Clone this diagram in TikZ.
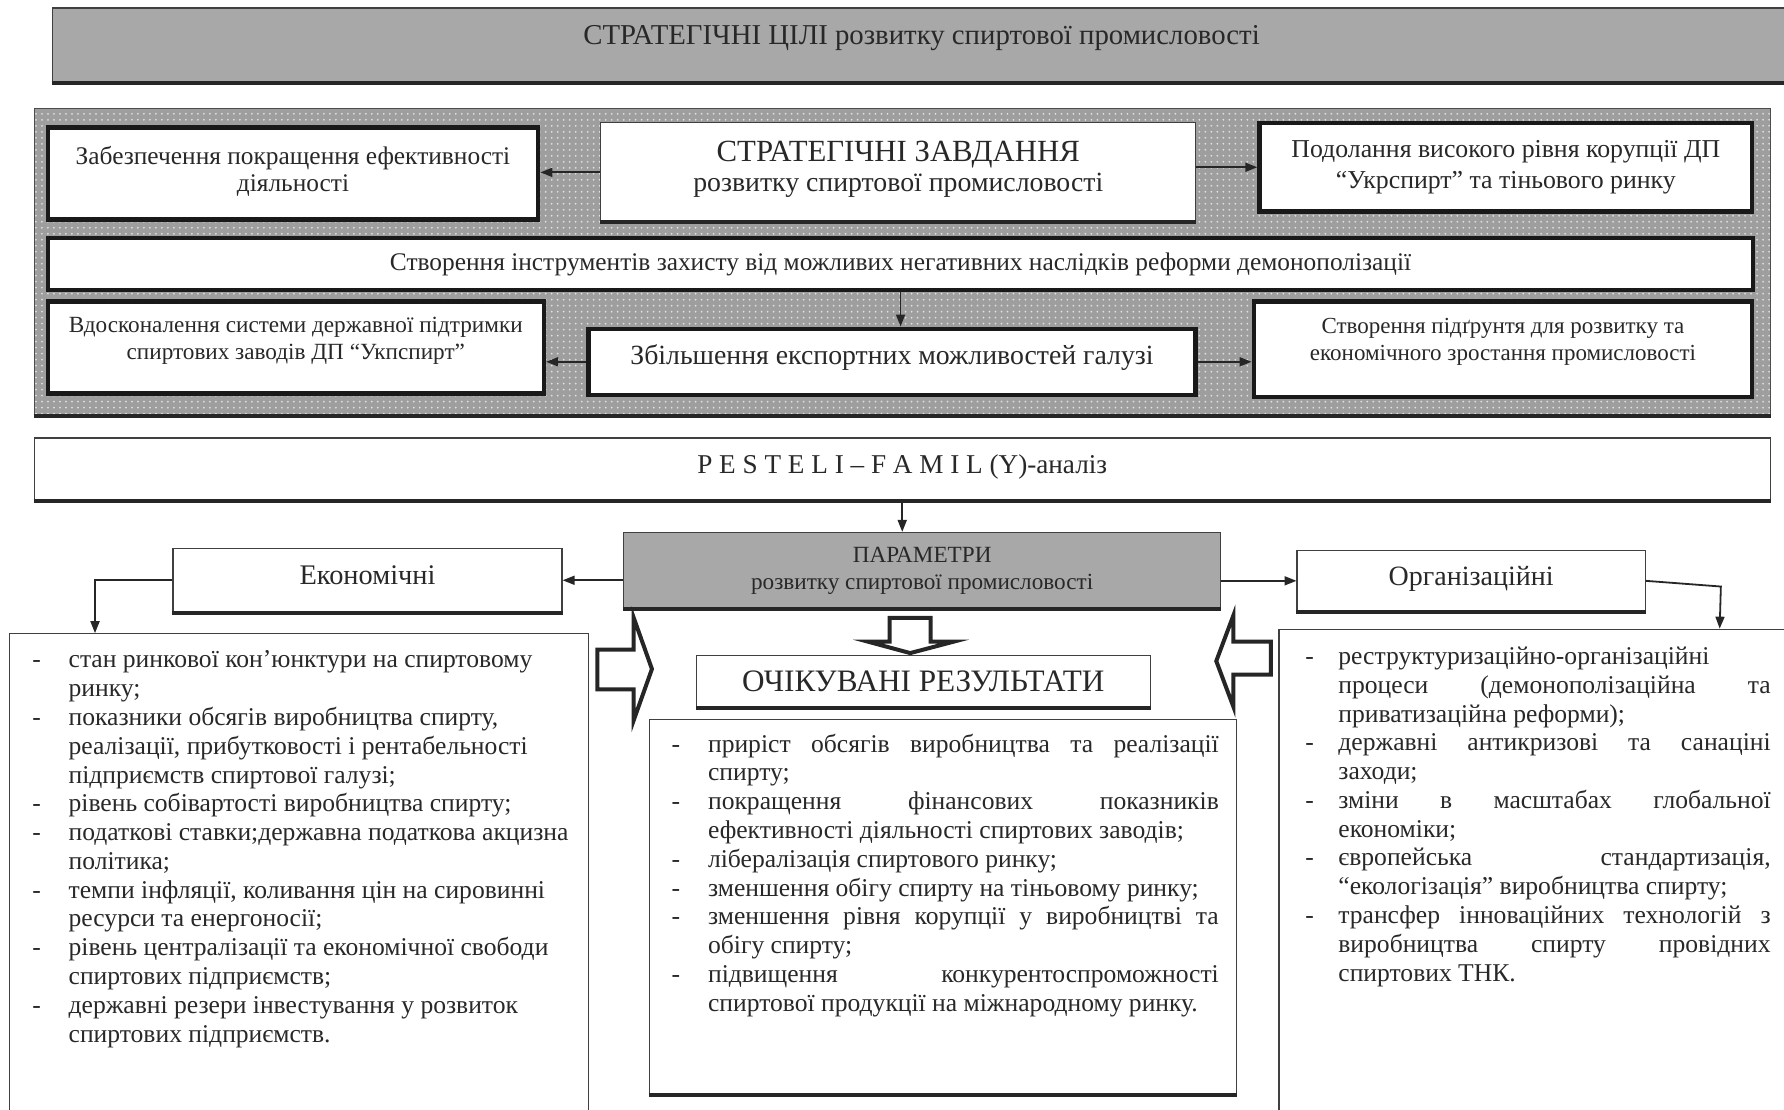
\documentclass[tikz,border=0pt]{standalone}
\usepackage{fontspec}
\setmainfont{Liberation Serif}
\usetikzlibrary{arrows.meta, positioning, calc, patterns}
\definecolor{boxGray}{RGB}{168, 168, 168}
\definecolor{panelGray}{RGB}{158, 158, 158}
\definecolor{inkGray}{RGB}{40, 40, 40}
\newcommand{\jl}[1]{\makebox[\linewidth][s]{#1}}
\newcommand{\padbelow}[1]{\rule[-#1]{0pt}{0pt}}

\begin{document}
\begin{tikzpicture}[
    x=0.02cm, y=-0.02cm,
    every node/.style={font=\fontsize{12.8}{14.4}\selectfont, text=inkGray},
    heavybox/.style={draw=black!90, line width=2.3pt, fill=white, align=center, inner sep=2pt},
    lightbox/.style={draw=black!75, line width=0.6pt, fill=white, align=center, inner sep=2pt,
        append after command={(\tikzlastnode.south west) edge[draw=black!85, line width=2pt] (\tikzlastnode.south east)}},
    listbox/.style={draw=black!75, line width=0.6pt, fill=white},
    listtext/.style={anchor=base west, inner sep=0pt, align=left},
    arr/.style={-{Triangle[length=6pt, width=4.5pt]}, draw=black!85, line width=0.9pt},
    hollow/.style={draw=black!85, line width=2pt, fill=white, line join=miter},
]
\useasboundingbox (0,0) rectangle (1568,975);
\clip (0,0) rectangle (1568,975);
% goals
\node[lightbox, fill=boxGray, minimum width=30.56cm, minimum height=1.3cm, text height=0.3cm, text depth=0.33cm, font=\fontsize{14.4}{16}\selectfont] (goals) at (810,39.5) {СТРАТЕГІЧНІ ЦІЛІ розвитку спиртової промисловості};
% tasks panel
\node[lightbox, draw=black!70, preaction={fill=panelGray}, pattern=dots, pattern color=black!12, minimum width=30.52cm, minimum height=5.4cm] (panel) at (793,230) {};
\node[heavybox, minimum width=8.62cm, minimum height=1.62cm, font=\fontsize{12.7}{13.6}\selectfont] (effic) at (257.5,152.5) {Забезпечення покращення ефективності\\діяльності\padbelow{5pt}};
\node[lightbox, minimum width=10.46cm, minimum height=1.74cm, font=\fontsize{13.9}{15}\selectfont] (tasks) at (789.5,151.5) {{\fontsize{15.4}{18}\selectfont СТРАТЕГІЧНІ ЗАВДАННЯ}\\[0pt]розвитку спиртової промисловості\padbelow{6pt}};
\node[heavybox, minimum width=8.66cm, minimum height=1.56cm, font=\fontsize{12.9}{15.3}\selectfont] (corrupt) at (1323.5,147) {Подолання високого рівня корупції ДП\\“Укрспирт” та тіньового ринку};
\node[heavybox, minimum width=29.98cm, minimum height=0.92cm, font=\fontsize{12.7}{14}\selectfont] (protect) at (791.5,232) {Створення інструментів захисту від можливих негативних наслідків реформи демонополізації};
\node[heavybox, minimum width=8.72cm, minimum height=1.62cm, font=\fontsize{11.6}{13.6}\selectfont] (support) at (260,305.5) {Вдосконалення системи державної підтримки\\спиртових заводів ДП “Укпспирт”\padbelow{9pt}};
\node[heavybox, minimum width=10.68cm, minimum height=1.16cm, font=\fontsize{13.9}{15}\selectfont] (export) at (784,318) {Збільшення експортних можливостей галузі\padbelow{7pt}};
\node[heavybox, minimum width=8.76cm, minimum height=1.68cm, font=\fontsize{11.5}{13.6}\selectfont] (ground) at (1321,307) {Створення підґрунтя для розвитку та\\економічного зростання промисловості\padbelow{10pt}};
\draw[arr] (tasks.west) -- (tasks.west -| effic.east);
\draw[arr] (tasks.east |- corrupt.west) -- (corrupt.west);
\draw[arr] (protect.south) -- (protect.south |- export.north);
\draw[arr] (export.west) -- (export.west -| support.east);
\draw[arr] (export.east) -- (export.east -| ground.west);
% analysis and parameters
\node[lightbox, minimum width=30.52cm, minimum height=1.1cm, font=\fontsize{13.6}{15}\selectfont] (pestel) at (793,412.5) {P E S T E L I – F A M I L (Y)-аналіз\padbelow{5pt}};
\node[lightbox, fill=boxGray, minimum width=10.5cm, minimum height=1.34cm, font=\fontsize{11.6}{13.6}\selectfont] (params) at (810.5,501.5) {ПАРАМЕТРИ\\розвитку спиртової промисловості};
\node[lightbox, minimum width=6.84cm, minimum height=1.12cm, font=\fontsize{14.2}{15}\selectfont] (econ) at (323,510) {Економічні\padbelow{5pt}};
\node[lightbox, minimum width=6.12cm, minimum height=1.06cm, font=\fontsize{14}{15}\selectfont] (org) at (1293,510.5) {Організаційні\padbelow{5pt}};
\node[lightbox, minimum width=7.98cm, minimum height=0.92cm, font=\fontsize{15.6}{17}\selectfont] (results) at (811.5,599) {ОЧІКУВАНІ РЕЗУЛЬТАТИ};
\draw[arr] (pestel.south) -- (pestel.south |- params.north);
\draw[arr] (params.west |- econ.east) -- (econ.east);
\draw[arr] (params.east |- org.west) -- (org.west);
% lists
\node[listbox, minimum width=10.18cm, minimum height=8.66cm] (econlist) at (262.5,773.5) {};
\node[lightbox, minimum width=10.32cm, minimum height=6.6cm] (reslist) at (829,797) {};
\node[listbox, minimum width=9.12cm, minimum height=8.74cm] (orglist) at (1352,771.5) {};
\draw[arr] (econ.west) -| ([xshift=1.52cm]econlist.north west);
\draw[arr] (org.east) -- ++(66,5) -- ([xshift=7.76cm]orglist.north west);
\node[listtext] (econitems) at (20,587) {\begin{tabular}[t]{@{}p{0.8cm}@{}p{9cm}@{}}
\hspace{0.16cm}- & стан ринкової кон’юнктури на спиртовому\\
 & ринку;\\
\hspace{0.16cm}- & показники обсягів виробництва спирту,\\
 & реалізації, прибутковості і рентабельності\\
 & підприємств спиртової галузі;\\
\hspace{0.16cm}- & рівень собівартості виробництва спирту;\\
\hspace{0.16cm}- & податкові ставки;державна податкова акцизна\\
 & політика;\\
\hspace{0.16cm}- & темпи інфляції, коливання цін на сировинні\\
 & ресурси та енергоносії;\\
\hspace{0.16cm}- & рівень централізації та економічної свободи\\
 & спиртових підприємств;\\
\hspace{0.16cm}- & державні резери інвестування у розвиток\\
 & спиртових підприємств.
\end{tabular}};
\node[listtext] (resitems) at (584,661) {\begin{tabular}[t]{@{}p{0.76cm}@{}p{8.98cm}@{}}
\hspace{0.12cm}- & \jl{приріст обсягів виробництва та реалізації}\\
 & спирту;\\
\hspace{0.12cm}- & \jl{покращення фінансових показників}\\
 & ефективності діяльності спиртових заводів;\\
\hspace{0.12cm}- & лібералізація спиртового ринку;\\
\hspace{0.12cm}- & зменшення обігу спирту на тіньовому ринку;\\
\hspace{0.12cm}- & \jl{зменшення рівня корупції у виробництві та}\\
 & обігу спирту;\\
\hspace{0.12cm}- & \jl{підвищення конкурентоспроможності}\\
 & спиртової продукції на міжнародному ринку.
\end{tabular}};
\node[listtext] (orgitems) at (1141,584) {\begin{tabular}[t]{@{}p{0.7cm}@{}p{7.6cm}@{}}
\hspace{0.12cm}- & реструктуризаційно-організаційні\\
 & \jl{процеси (демонополізаційна та}\\
 & приватизаційна реформи);\\
\hspace{0.12cm}- & \jl{державні антикризові та санаціні}\\
 & заходи;\\
\hspace{0.12cm}- & \jl{зміни в масштабах глобальної}\\
 & економіки;\\
\hspace{0.12cm}- & \jl{європейська стандартизація,}\\
 & “екологізація” виробництва спирту;\\
\hspace{0.12cm}- & \jl{трансфер інноваційних технологій з}\\
 & \jl{виробництва спирту провідних}\\
 & спиртових ТНК.
\end{tabular}};
% hollow arrows
\draw[hollow] (525,571) -- (557,571) -- (557,543) -- (573,588) -- (557,633) -- (557,606) -- (525,606) -- cycle;
\draw[hollow] (1117,564) -- (1084,564) -- (1084,541) -- (1069,581) -- (1084,621) -- (1084,593) -- (1117,593) -- cycle;
\draw[hollow] (782,543) -- (818,543) -- (818,564) -- (838,564) -- (800,574) -- (763,564) -- (782,564) -- cycle;
\end{tikzpicture}
\end{document}
